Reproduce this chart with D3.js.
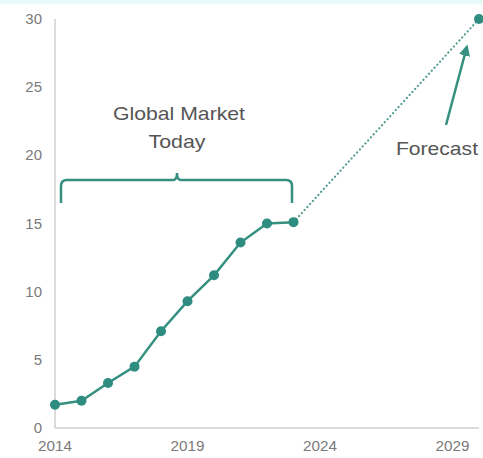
<!DOCTYPE html>
<html>
<head>
<meta charset="utf-8">
<script src="https://cdn.jsdelivr.net/npm/d3@7"></script>
<style>
  body { margin: 0; background: #fff; }
  svg { display: block; font-family: "Liberation Sans", Arial, sans-serif; }
</style>
</head>
<body>
<svg id="chart" width="483" height="458"></svg>
<script>
// market size by year
const years = [2014, 2015, 2016, 2017, 2018, 2019, 2020, 2021, 2022, 2023]
const values = [1.7, 2.0, 3.3, 4.5, 7.1, 9.3, 11.2, 13.6, 15.0, 15.1]
const forecastYears = [2023, 2030]
const forecastValues = [15.1, 30]
const xTicks = [2014, 2019, 2024, 2029]
const yTicks = [0, 5, 10, 15, 20, 25, 30]

const teal = '#35907f'
const svg = d3.select('#chart')

// faint strip at the top of the screenshot
svg.append('rect').attr('x', 0).attr('y', 0).attr('width', 483).attr('height', 4).attr('fill', '#e8faf7')

let x = d3.scaleLinear().domain([2014, 2030]).range([55, 479])
let y = d3.scaleLinear().domain([0, 30]).range([428, 19])

// axes lines
svg.append('line')
  .attr('x1', x(2014)).attr('x2', x(2014))
  .attr('y1', y(30)).attr('y2', y(0))
  .attr('stroke', '#cfcfcf').attr('stroke-width', 1.5)
svg.append('line')
  .attr('x1', x(2014)).attr('x2', x(2030))
  .attr('y1', y(0)).attr('y2', y(0))
  .attr('stroke', '#cfcfcf').attr('stroke-width', 1.5)

svg.selectAll('text.ytick')
  .data(yTicks)
  .join('text')
  .attr('class', 'ytick')
  .attr('x', 42).attr('y', d => y(d) + 5)
  .attr('text-anchor', 'end')
  .attr('font-size', 15)
  .attr('fill', '#7a7a7a')
  .text(d => d)

svg.selectAll('text.xtick')
  .data(xTicks)
  .join('text')
  .attr('class', 'xtick')
  .attr('x', d => x(d)).attr('y', 451)
  .attr('text-anchor', 'middle')
  .attr('font-size', 15)
  .attr('textLength', 34)
  .attr('lengthAdjust', 'spacingAndGlyphs')
  .attr('fill', '#7a7a7a')
  .text(d => d)

// dotted forecast line
const fc = forecastYears.map((d, i) => [d, forecastValues[i]])
svg.append('path')
  .datum(fc)
  .attr('d', d3.line().x(d => x(d[0])).y(d => y(d[1])))
  .attr('fill', 'none')
  .attr('stroke', '#4f9b90')
  .attr('stroke-width', 2.2)
  .attr('stroke-dasharray', '0.1 4')
  .attr('stroke-linecap', 'round')

// actual series
const pts = years.map((d, i) => [d, values[i]])
svg.append('path')
  .datum(pts)
  .attr('d', d3.line().x(d => x(d[0])).y(d => y(d[1])))
  .attr('fill', 'none')
  .attr('stroke', teal)
  .attr('stroke-width', 2.5)

svg.selectAll('circle.pt')
  .data(pts)
  .join('circle')
  .attr('class', 'pt')
  .attr('cx', d => x(d[0])).attr('cy', d => y(d[1]))
  .attr('r', 5)
  .attr('fill', '#2f8c80')

svg.append('circle')
  .attr('cx', x(2030)).attr('cy', y(30))
  .attr('r', 5)
  .attr('fill', '#2f8c80')

// bracket over the historic range
const bx0 = 61, bx1 = 292, bmid = 177, btop = 180, bbot = 203
svg.append('path')
  .attr('d', `M${bx0},${bbot} L${bx0},${btop + 6} Q${bx0},${btop} ${bx0 + 6},${btop} L${bmid - 4},${btop} Q${bmid},${btop} ${bmid},${btop - 7} Q${bmid},${btop} ${bmid + 4},${btop} L${bx1 - 6},${btop} Q${bx1},${btop} ${bx1},${btop + 6} L${bx1},${bbot}`)
  .attr('fill', 'none')
  .attr('stroke', teal)
  .attr('stroke-width', 2.5)

svg.append('text')
  .attr('x', 179).attr('y', 120)
  .attr('text-anchor', 'middle')
  .attr('font-size', 19)
  .attr('textLength', 132)
  .attr('lengthAdjust', 'spacingAndGlyphs')
  .attr('fill', '#555')
  .text('Global Market')
svg.append('text')
  .attr('x', 177).attr('y', 148)
  .attr('text-anchor', 'middle')
  .attr('font-size', 19)
  .attr('textLength', 57)
  .attr('lengthAdjust', 'spacingAndGlyphs')
  .attr('fill', '#555')
  .text('Today')

// forecast label + arrow
svg.append('defs').append('marker')
  .attr('id', 'arrow')
  .attr('viewBox', '0 0 10 10')
  .attr('refX', 5).attr('refY', 5)
  .attr('markerWidth', 4.5).attr('markerHeight', 4.5)
  .attr('orient', 'auto')
  .append('path')
  .attr('d', 'M0,0 L10,5 L0,10 z')
  .attr('fill', teal)

svg.append('line')
  .attr('x1', 446).attr('y1', 125)
  .attr('x2', 466).attr('y2', 50)
  .attr('stroke', teal)
  .attr('stroke-width', 2.5)
  .attr('marker-end', 'url(#arrow)')

svg.append('text')
  .attr('x', 437).attr('y', 155)
  .attr('text-anchor', 'middle')
  .attr('font-size', 19)
  .attr('textLength', 82)
  .attr('lengthAdjust', 'spacingAndGlyphs')
  .attr('fill', '#555')
  .text('Forecast')
</script>
</body>
</html>
